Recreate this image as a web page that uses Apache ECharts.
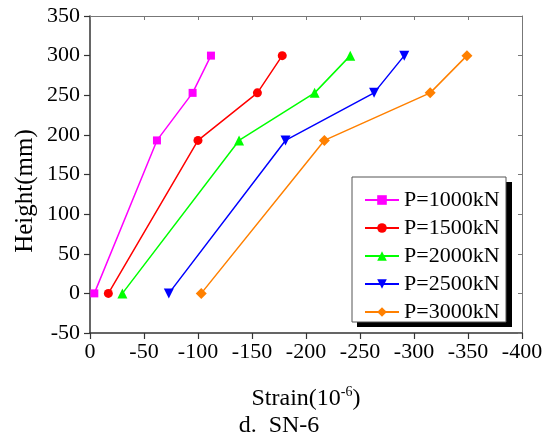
<!DOCTYPE html>
<html><head><meta charset="utf-8">
<script src="https://cdn.jsdelivr.net/npm/echarts@6/dist/echarts.min.js"></script>
<style>html,body{margin:0;padding:0;background:#fff}#c{width:548px;height:441px}</style>
</head><body><div id="c"></div>
<script>
const heights = [0, 193, 253, 300];
const seriesNames = ['P=1000kN', 'P=1500kN', 'P=2000kN', 'P=2500kN', 'P=3000kN'];
const s1000 = [-4, -62, -95, -112];
const s1500 = [-17, -100, -155, -178];
const s2000 = [-30, -138, -208, -241];
const s2500 = [-73, -181, -263, -291];
const s3000 = [-103, -217, -315, -349];
const colors = ['#FF00FF', '#FF0000', '#00FF00', '#0000FF', '#FF8000'];
const symbols = ['rect', 'circle', 'triangle', 'triangle', 'diamond'];
const symbolSizes = [8, 9, 10, 10, 11];
const symbolRotates = [0, 0, 0, 180, 0];
const allValues = [s1000, s1500, s2000, s2500, s3000];

const FONT = 'Liberation Serif';
const chart = echarts.init(document.getElementById('c'));
const series = allValues.map((vals, i) => ({
  name: seriesNames[i],
  type: 'line',
  data: vals.map((v, j) => [v, heights[j]]),
  symbol: symbols[i],
  symbolSize: symbolSizes[i],
  symbolRotate: symbolRotates[i],
  itemStyle: { color: colors[i] },
  lineStyle: { color: colors[i], width: 1.5 },
  z: 3
}));

const labelStyle = { color: '#000', fontFamily: FONT, fontSize: 22 };

chart.setOption({
  animation: false,
  backgroundColor: '#fff',
  textStyle: { fontFamily: FONT },
  grid: { left: 90, right: 26, top: 16, bottom: 108, containLabel: false },
  xAxis: [{
    type: 'value', inverse: true, min: -400, max: 0, interval: 50,
    axisLine: { show: true, onZero: false, lineStyle: { color: '#333', width: 1.5 } },
    axisTick: { show: true, inside: false, length: 6, lineStyle: { color: '#333', width: 1.2 } },
    axisLabel: Object.assign({ margin: 8 }, labelStyle),
    splitLine: { show: false },
    name: '{a|Strain(10}{s|-6}{a|)}',
    nameLocation: 'middle', nameGap: 52,
    nameTextStyle: {
      fontFamily: FONT,
      rich: {
        a: { fontFamily: FONT, fontSize: 24, color: '#000', lineHeight: 28 },
        s: { fontFamily: FONT, fontSize: 14, color: '#000', verticalAlign: 'top', lineHeight: 14, padding: [0, 0, 12, 0] }
      }
    }
  }, {
    type: 'value', position: 'top', inverse: true, min: -400, max: 0, interval: 50,
    axisLine: { show: true, onZero: false, lineStyle: { color: '#777', width: 1 } },
    axisTick: { show: true, inside: true, length: 4, lineStyle: { color: '#777' } },
    axisLabel: { show: false }, splitLine: { show: false }
  }],
  yAxis: [{
    type: 'value', min: -50, max: 350, interval: 50,
    axisLine: { show: true, onZero: false, lineStyle: { color: '#333', width: 1.5 } },
    axisTick: { show: true, inside: false, length: 6, lineStyle: { color: '#333', width: 1.2 } },
    axisLabel: Object.assign({ margin: 10 }, labelStyle),
    splitLine: { show: false }
  }, {
    type: 'value', position: 'right', min: -50, max: 350, interval: 50,
    axisLine: { show: true, onZero: false, lineStyle: { color: '#777', width: 1 } },
    axisTick: { show: true, inside: true, length: 4, lineStyle: { color: '#777' } },
    axisLabel: { show: false }, splitLine: { show: false }
  }],
  legend: {
    orient: 'vertical', left: 364, top: 189, padding: 0,
    itemWidth: 34, itemHeight: 12, itemGap: 6,
    textStyle: { fontFamily: FONT, fontSize: 22, color: '#000', lineHeight: 22 },
    data: seriesNames, z: 10
  },
  graphic: [
    { type: 'rect', shape: { x: 357, y: 182, width: 155, height: 145 }, style: { fill: '#000' }, z: 5 },
    { type: 'rect', shape: { x: 352, y: 177, width: 154, height: 145 }, style: { fill: '#fff', stroke: '#555', lineWidth: 1 }, z: 6 },
    { type: 'text', x: 25, y: 191, rotation: Math.PI / 2, style: { text: 'Height(mm)', font: '25px ' + FONT, fill: '#000', align: 'center', verticalAlign: 'middle' }, z: 6 },
    { type: 'text', x: 279, y: 426, style: { text: 'd.  SN-6', font: '24px ' + FONT, fill: '#000', align: 'center', verticalAlign: 'middle' }, z: 6 }
  ],
  series: series
});
</script></body></html>
